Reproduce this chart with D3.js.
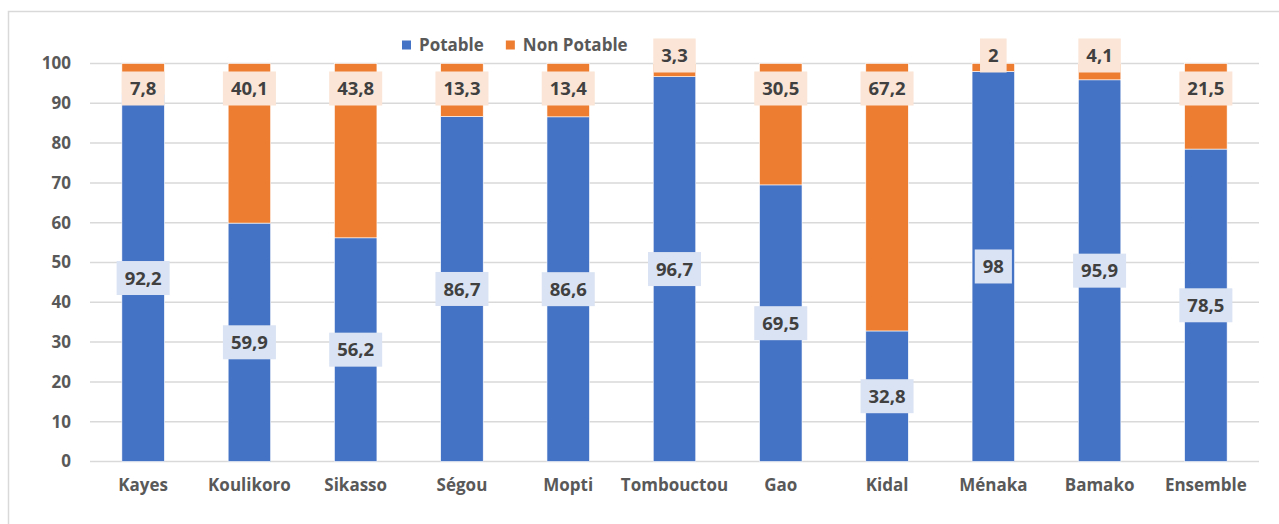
<!DOCTYPE html>
<html>
<head>
<meta charset="utf-8">
<script src="https://cdn.jsdelivr.net/npm/d3@7"></script>
<style>
  body { margin: 0; background: #fff; }
  svg { display: block; font-family: "Open Sans", "Liberation Sans", sans-serif; }
</style>
</head>
<body>
<svg width="1279" height="524"></svg>
<script>
// data
var regions = ['Kayes', 'Koulikoro', 'Sikasso', 'Ségou', 'Mopti', 'Tombouctou', 'Gao', 'Kidal', 'Ménaka', 'Bamako', 'Ensemble'];
var potable = [92.2, 59.9, 56.2, 86.7, 86.6, 96.7, 69.5, 32.8, 98, 95.9, 78.5];
var nonPotable = [7.8, 40.1, 43.8, 13.3, 13.4, 3.3, 30.5, 67.2, 2, 4.1, 21.5];
var yTicks = [0, 10, 20, 30, 40, 50, 60, 70, 80, 90, 100];
var seriesNames = ['Potable', 'Non Potable'];

var colors = { 'Potable': '#4472C4', 'Non Potable': '#ED7D31' };
var boxFill = { 'Potable': '#DAE3F3', 'Non Potable': '#FBE5D6' };

var svg = d3.select('svg');
var width = +svg.attr('width');

// chart frame
svg.append('rect')
    .attr('x', 8.5).attr('y', 11.5)
    .attr('width', width + 10).attr('height', 600)
    .attr('fill', 'none')
    .attr('stroke', '#D9D9D9')
    .attr('stroke-width', 1.5);

var plot = { left: 90, right: 1259, top: 63.5, bottom: 461.5 };

var x = d3.scaleBand()
    .domain(regions)
    .range([plot.left, plot.right])
    .paddingInner(0.6)
    .paddingOuter(0.3);

var y = d3.scaleLinear()
    .domain([0, 100])
    .range([plot.bottom, plot.top]);

var fmt = d3.formatLocale({ decimal: ',', thousands: ' ', grouping: [3], currency: ['', ''] }).format('~g');

// gridlines
svg.append('g')
    .selectAll('line')
    .data(yTicks)
    .join('line')
    .attr('x1', plot.left).attr('x2', plot.right)
    .attr('y1', d => y(d)).attr('y2', d => y(d))
    .attr('stroke', '#D9D9D9')
    .attr('stroke-width', 1.5);

// y axis labels
var yAxis = d3.axisLeft(y).tickValues(yTicks).tickSize(0).tickPadding(0);
svg.append('g')
    .attr('transform', 'translate(71,0)')
    .call(yAxis)
    .call(g => g.select('.domain').remove())
    .selectAll('text')
    .attr('font-size', 17)
    .attr('font-weight', 'bold')
    .attr('font-family', '"Open Sans", sans-serif')
    .attr('fill', '#595959');

// x axis labels
var xAxis = d3.axisBottom(x).tickSize(0).tickPadding(0);
svg.append('g')
    .attr('transform', 'translate(0,' + (plot.bottom + 17) + ')')
    .call(xAxis)
    .call(g => g.select('.domain').remove())
    .selectAll('text')
    .attr('font-size', 17)
    .attr('font-weight', 'bold')
    .attr('font-family', '"Open Sans", sans-serif')
    .attr('fill', '#595959');

// stacked data
var rows = regions.map((r, i) => ({ region: r, 'Potable': potable[i], 'Non Potable': nonPotable[i] }));
var stacked = d3.stack().keys(seriesNames)(rows);

var layers = svg.append('g')
    .selectAll('g')
    .data(stacked)
    .join('g')
    .attr('fill', d => colors[d.key]);

layers.selectAll('rect')
    .data(d => d)
    .join('rect')
    .attr('x', d => x(d.data.region))
    .attr('width', x.bandwidth())
    .attr('y', d => y(d[1]))
    .attr('height', d => y(d[0]) - y(d[1]))
    .attr('stroke', '#fff')
    .attr('stroke-width', 0.6);

// data labels
function labelCenter(key, d) {
    if (key === 'Potable') return (y(d[0]) + y(d[1])) / 2;
    var v = d[1] - d[0];
    if (v < 5) return y(d[1]) - 8;
    return y(d[1]) + 25;
}

var labels = svg.append('g');
stacked.forEach(function (layer) {
    layer.forEach(function (d) {
        var cx = x(d.data.region) + x.bandwidth() / 2;
        var cy = labelCenter(layer.key, d);
        var txt = fmt(d.data[layer.key]);
        var g = labels.append('g').attr('transform', 'translate(' + cx + ',' + cy + ')');
        var t = g.append('text')
            .attr('text-anchor', 'middle')
            .attr('dy', '0.36em')
            .attr('font-size', 18.5)
            .attr('font-weight', 'bold')
            .attr('fill', '#404040')
            .text(txt);
        var w = t.node().getComputedTextLength() + 16;
        g.insert('rect', 'text')
            .attr('x', -w / 2).attr('y', -17)
            .attr('width', w).attr('height', 34)
            .attr('fill', boxFill[layer.key]);
    });
});

// legend
var legend = svg.append('g').attr('transform', 'translate(402,45)');
var lx = 0;
seriesNames.forEach(function (name) {
    var item = legend.append('g').attr('transform', 'translate(' + lx + ',0)');
    item.append('rect')
        .attr('x', 0).attr('y', -4.5)
        .attr('width', 9).attr('height', 9)
        .attr('fill', colors[name]);
    var t = item.append('text')
        .attr('x', 17)
        .attr('dy', '0.36em')
        .attr('font-size', 17)
        .attr('font-weight', 'bold')
        .attr('fill', '#595959')
        .text(name);
    lx += 17 + t.node().getComputedTextLength() + 22;
});
</script>
</body>
</html>
